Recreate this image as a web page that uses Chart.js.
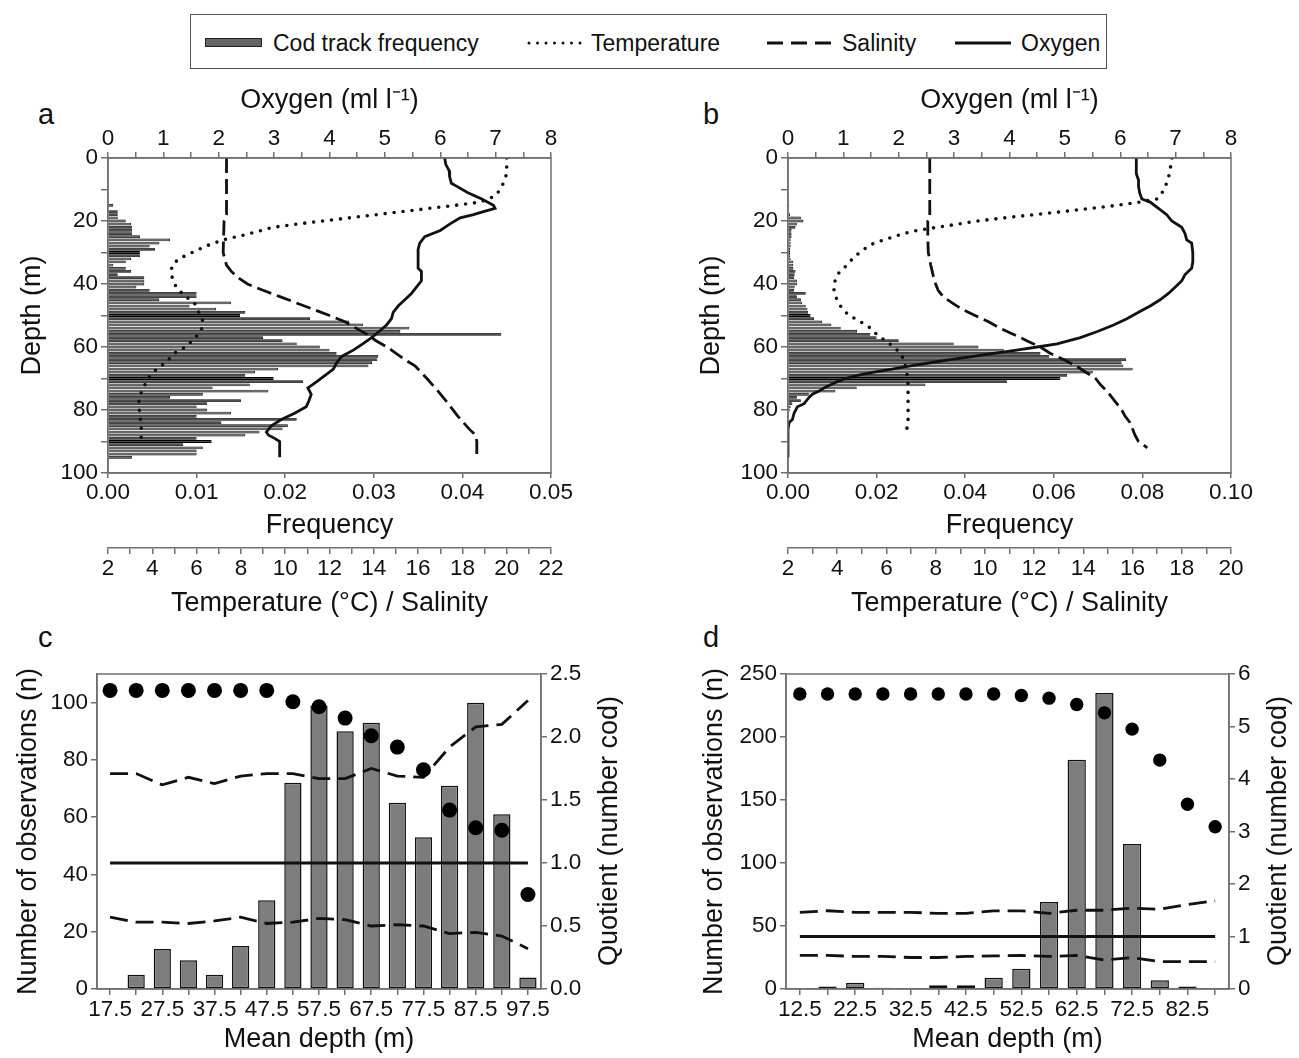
<!DOCTYPE html>
<html>
<head>
<meta charset="utf-8">
<title>Cod tracks and water column profiles</title>
<script src="https://cdn.jsdelivr.net/npm/chart.js@4.4.1/dist/chart.umd.min.js"></script>
<style>
  body { margin: 0; background: #fff; }
  #fig { position: relative; width: 1299px; height: 1058px; overflow: hidden;
         font-family: 'Liberation Sans', Arial, sans-serif; color: #111; }
  #fig canvas { position: absolute; }
  .box { position: absolute; left: 190px; top: 14px; width: 915px; height: 53px; border: 1.5px solid #555; }
  .lbl { position: absolute; font-size: 23px; line-height: 28px; top: 29px; white-space: nowrap; }
  .sw { position: absolute; top: 37px; }
  .letter { position: absolute; font-size: 29px; line-height: 32px; }
  .rtitle { position: absolute; width: 340px; text-align: center; font-size: 27px; line-height: 32px;
            transform: rotate(-90deg); white-space: nowrap; }
</style>
</head>
<body>
<div id="fig">
  <div class="box"></div>
  <svg class="sw" style="left:205px" width="58" height="12"><rect x="0.5" y="1.5" width="56" height="8" fill="#666" stroke="#222" stroke-width="1"/></svg>
  <span class="lbl" style="left:273px">Cod track frequency</span>
  <svg class="sw" style="left:527px" width="56" height="12"><line x1="2" y1="6" x2="54" y2="6" stroke="#111" stroke-width="3" stroke-linecap="round" stroke-dasharray="0 8.5"/></svg>
  <span class="lbl" style="left:591px">Temperature</span>
  <svg class="sw" style="left:767px" width="66" height="12"><line x1="0" y1="6" x2="64" y2="6" stroke="#111" stroke-width="3" stroke-dasharray="16 8"/></svg>
  <span class="lbl" style="left:842px">Salinity</span>
  <svg class="sw" style="left:955px" width="58" height="12"><line x1="0" y1="6" x2="56" y2="6" stroke="#111" stroke-width="3"/></svg>
  <span class="lbl" style="left:1021px">Oxygen</span>

  <span class="letter" style="left:38px;top:98px">a</span>
  <span class="letter" style="left:703px;top:98px">b</span>
  <span class="letter" style="left:38px;top:621px">c</span>
  <span class="letter" style="left:703px;top:621px">d</span>

  <canvas id="panelA" width="600" height="548" style="left:0;top:80px"></canvas>
  <canvas id="panelB" width="619" height="548" style="left:680px;top:80px"></canvas>
  <canvas id="panelC" width="610" height="438" style="left:0;top:620px"></canvas>
  <canvas id="panelD" width="619" height="438" style="left:680px;top:620px"></canvas>

  <div class="rtitle" style="left:438px;top:815px">Quotient (number cod)</div>
  <div class="rtitle" style="left:1107px;top:815px">Quotient (number cod)</div>
</div>

<script>
// ---- a: cod track frequency by 1 m depth bin ----
const binDepthA = [15,16,17,18,19,20,21,22,23,24,25,26,27,28,29,30,31,32,33,34,35,36,37,38,39,40,
  41,42,43,44,45,46,47,48,49,50,51,52,53,54,55,56,57,58,59,60,61,62,63,64,65,66,67,68,69,70,
  71,72,73,74,75,76,77,78,79,80,81,82,83,84,85,86,87,88,89,90,91,92,93,94,95];
const freqA = [0.0006,0,0.0011,0.0011,0.0011,0.002,0.0026,0.0027,0.0027,0.0027,0.0036,0.007,0.0058,
  0.0047,0.0053,0.0036,0.0036,0.0026,0.002,0.0006,0.002,0.0026,0.0011,0.0041,0.0041,0.0041,
  0.0032,0.0047,0.010,0.010,0.0058,0.0139,0.0092,0.0122,0.0155,0.0149,0.0228,0.0272,0.0288,0.034,
  0.033,0.0444,0.0175,0.0197,0.0213,0.0239,0.025,0.0258,0.0305,0.0304,0.0298,0.0294,0.0192,0.0166,
  0.0155,0.0187,0.022,0.016,0.0118,0.0181,0.0107,0.007,0.015,0.0112,0.010,0.0112,0.0139,0.010,
  0.0213,0.0128,0.0203,0.0197,0.0171,0.0155,0.010,0.0117,0.0085,0.0107,0.010,0.010,0.0027];

const tempDepthA = [0,5,8,10,12,14,15,16,17,18,19,20,21,22,24,25,26,28,30,32,34,36,38,40,42,44,46,
  49,52,55,58,60,62,65,67,70,73,76,79,82,85,88,91];
const tempA = [20.0,20.0,19.85,19.7,19.5,18.8,17.7,16.5,15.3,14.1,12.9,11.7,10.5,9.45,8.4,7.8,7.2,
  6.4,5.8,5.2,4.9,4.85,4.9,5.0,5.2,5.5,5.9,6.1,6.3,6.2,5.8,5.5,5.0,4.6,4.2,3.8,3.6,3.4,3.4,3.45,3.5,3.5,3.5];

const salDepthA = [0,10,18,20,25,30,32,34,36,38,40,42,44,46,48,50,52,54,56,58,60,62,64,66,70,74,78,
  82,86,88,90,95];
const salA = [7.35,7.35,7.35,7.24,7.22,7.2,7.27,7.35,7.57,7.87,8.3,9.0,9.76,10.5,11.26,12.0,12.7,13.2,
  13.7,14.1,14.6,15.0,15.4,15.86,16.4,16.9,17.36,17.8,18.3,18.6,18.65,18.65];

const oxyDepthA = [0,2,4,6,8,9,11,13,15,16,17,18,19,21,23,25,27,29,32,35,36,39,41,43,45,47,49,51,53,
  55,57,59,61,63,65,67,69,71,73,75,77,79,81,83,85,87,88,89,90,95];
const oxyA = [6.08,6.1,6.16,6.17,6.2,6.3,6.5,6.75,6.96,6.99,6.78,6.6,6.36,6.17,6.0,5.72,5.63,5.6,5.6,
  5.6,5.66,5.66,5.57,5.48,5.36,5.24,5.15,5.12,5.03,4.9,4.76,4.6,4.43,4.22,4.13,4.07,3.92,3.77,3.61,
  3.67,3.63,3.58,3.37,3.13,2.95,2.86,2.9,3.01,3.1,3.1];

// ---- b ----
const binDepthB = [15,16,17,18,19,20,21,22,23,24,25,26,27,28,29,30,31,32,33,34,35,36,37,38,39,40,
  41,42,43,44,45,46,47,48,49,50,51,52,53,54,55,56,57,58,59,60,61,62,63,64,65,66,67,68,69,70,
  71,72,73,74,75,76,77,78,79,80];
const freqB = [0.0003,0,0,0.0005,0.0029,0.0035,0.002,0.0017,0.0008,0.0008,0.0008,0.0006,0.0006,0.0006,
  0.0005,0.0005,0.0005,0.0006,0.0012,0.0012,0.0012,0.0017,0.0015,0.0014,0.002,0.002,0.0015,0.0014,
  0.004,0.002,0.0029,0.0032,0.004,0.0044,0.0045,0.0051,0.0059,0.0077,0.0098,0.0119,0.0156,0.0186,
  0.020,0.025,0.0374,0.043,0.0487,0.057,0.059,0.0763,0.0753,0.0757,0.0778,0.0688,0.063,0.0615,
  0.0494,0.031,0.0155,0.0107,0.0047,0.002,0.0029,0.001,0.0006,0.0004];

const tempDepthB = [0,5,10,13,14,15,16,17,18,19,20,21,22,23,24,25,26,27,29,31,33,35,37,40,42,44,46,
  48,50,52,54,56,58,60,62,64,66,70,75,80,85,88];
const tempB = [17.6,17.5,17.3,17.0,16.3,15.4,14.3,13.2,12.0,10.8,9.7,8.9,8.06,7.25,6.7,6.3,5.9,5.5,
  5.08,4.75,4.5,4.27,4.0,3.87,3.87,3.93,4.07,4.2,4.5,4.95,5.35,5.6,5.96,6.3,6.57,6.7,6.77,6.87,6.88,
  6.88,6.88,6.7];

const salDepthB = [0,10,19,20,25,30,34,36,38,40,42,44,46,48,50,52,54,56,58,60,62,64,66,68,70,72,74,
  76,78,80,82,84,86,88,90,92];
const salB = [7.76,7.76,7.76,7.68,7.68,7.7,7.8,7.86,7.92,8.0,8.1,8.3,8.67,9.07,9.6,10.15,10.6,11.17,
  11.7,12.25,12.65,13.2,13.7,14.1,14.5,14.7,14.96,15.16,15.36,15.56,15.7,15.9,16.0,16.1,16.24,16.6];

const oxyDepthB = [0,5,7,9,11,13,14,16,18,20,22,24,26,27,30,33,35,37,39,41,43,45,47,49,51,53,55,57,
  59,60,61,62,63,64,65,66,67,68,69,70,71,72,73,74,75,76,78,79,81,83,84,86,95];
const oxyB = [6.29,6.29,6.33,6.33,6.35,6.39,6.54,6.69,6.84,6.93,7.11,7.17,7.2,7.29,7.31,7.31,7.29,
  7.17,7.11,6.99,6.87,6.72,6.54,6.33,6.12,5.88,5.6,5.28,4.86,4.5,4.13,3.71,3.35,2.93,2.57,2.21,1.88,
  1.55,1.25,1.04,0.89,0.77,0.65,0.56,0.44,0.38,0.29,0.17,0.11,0.08,0.02,0,0];

// ---- c: observations and quotient per 5 m depth class ----
const depthClassC = ['17.5','22.5','27.5','32.5','37.5','42.5','47.5','52.5','57.5','62.5','67.5',
  '72.5','77.5','82.5','87.5','92.5','97.5'];
const obsC = [0,5,14,10,5,15,31,72,99,90,93,65,53,71,100,61,4];
const quotC = [2.37,2.37,2.37,2.37,2.37,2.37,2.37,2.28,2.24,2.15,2.01,1.92,1.74,1.42,1.28,1.26,0.75];
const upperC = [1.71,1.71,1.62,1.68,1.63,1.69,1.71,1.71,1.67,1.67,1.75,1.69,1.68,1.92,2.08,2.10,2.29];
const lowerC = [0.57,0.53,0.53,0.52,0.54,0.57,0.52,0.53,0.56,0.55,0.50,0.51,0.50,0.44,0.45,0.42,0.32];

// ---- d ----
const depthClassD = ['12.5','17.5','22.5','27.5','32.5','37.5','42.5','47.5','52.5','57.5','62.5',
  '67.5','72.5','77.5','82.5','87.5'];
const obsD = [0,2,5,1,0.5,3,3,9,16,69,182,235,115,7,2,0];
const quotD = [5.62,5.62,5.62,5.62,5.62,5.62,5.62,5.62,5.59,5.54,5.42,5.26,4.95,4.36,3.52,3.09];
const upperD = [1.46,1.49,1.46,1.46,1.46,1.44,1.44,1.49,1.49,1.44,1.50,1.50,1.54,1.52,1.61,1.68];
const lowerD = [0.64,0.64,0.62,0.62,0.60,0.60,0.62,0.63,0.64,0.62,0.64,0.55,0.60,0.52,0.52,0.52];

const unitQuotient = 1;

const AXIS = '#707070';
const INK = '#111';
const TICK_FONT = { size: 22.5 };
const TITLE_FONT = { size: 27 };

Chart.defaults.font.family = "'Liberation Sans', Arial, sans-serif";
Chart.defaults.color = INK;
Chart.defaults.animation = false;
Chart.defaults.plugins.legend.display = false;
Chart.defaults.plugins.tooltip.enabled = false;

// outline round the plotting area
const frame = {
  id: 'frame',
  afterDatasetsDraw(chart) {
    const { ctx, chartArea: a } = chart;
    ctx.save();
    ctx.strokeStyle = AXIS;
    ctx.lineWidth = 1.5;
    ctx.strokeRect(a.left, a.top, a.right - a.left, a.bottom - a.top);
    ctx.restore();
  }
};

const fixWidth = w => s => { s.width = w; };
const fixHeight = h => s => { s.height = h; };
const pts = (depths, vals) => depths.map((d, i) => ({ x: vals[i], y: d }));

function axisGrid(len) {
  return { drawOnChartArea: false, color: AXIS, lineWidth: 1.5, tickLength: len };
}

function profileLine(depths, vals, axisId, dash, cap) {
  return {
    type: 'line', indexAxis: 'y', xAxisID: axisId, yAxisID: 'depth',
    data: pts(depths, vals), borderColor: INK, borderWidth: dash && cap ? 3.6 : 2.8,
    borderDash: dash || [], borderCapStyle: cap || 'butt',
    pointRadius: 0, tension: 0, fill: false, order: 1
  };
}

function profileChart(id, p) {
  new Chart(document.getElementById(id), {
    type: 'bar',
    data: {
      datasets: [
        { type: 'bar', indexAxis: 'y', xAxisID: 'freq', yAxisID: 'depth',
          data: pts(p.binDepth, p.freq), backgroundColor: '#4f4f4f', borderColor: '#000',
          borderWidth: 0.8, barPercentage: 0.9, categoryPercentage: 1, order: 3 },
        profileLine(p.tempDepth, p.temp, 'temp', [0, 9], 'round'),
        profileLine(p.salDepth, p.sal, 'temp', [15, 6]),
        profileLine(p.oxyDepth, p.oxy, 'oxy')
      ]
    },
    options: {
      responsive: false,
      indexAxis: 'y',
      layout: { padding: { right: p.rightPad } },
      scales: {
        depth: {
          type: 'linear', axis: 'y', position: 'left', reverse: true, min: 0, max: 100, offset: false,
          afterFit: fixWidth(108),
          ticks: { stepSize: 10, font: TICK_FONT, padding: 3, callback: v => (v % 20 === 0 ? v : '') },
          grid: Object.assign(axisGrid(7), { offset: false }), border: { color: AXIS, width: 1.5 },
          title: { display: true, text: 'Depth (m)', font: TITLE_FONT, padding: { top: p.depthPad } }
        },
        oxy: {
          type: 'linear', axis: 'x', position: 'top', min: 0, max: 8,
          afterFit: fixHeight(78),
          ticks: { stepSize: 0.5, font: TICK_FONT, padding: 0, autoSkip: false, maxRotation: 0,
                   callback: v => (Number.isInteger(v) ? v : '') },
          grid: axisGrid(6), border: { color: AXIS, width: 1.5 },
          title: { display: true, text: 'Oxygen (ml l\u207B\u00B9)', font: TITLE_FONT, padding: { top: 4 } }
        },
        freq: {
          type: 'linear', axis: 'x', position: 'bottom', weight: 0, min: 0, max: p.freqMax,
          afterFit: fixHeight(75),
          ticks: { stepSize: p.freqStep, font: TICK_FONT, padding: 1, maxRotation: 0,
                   callback: v => v.toFixed(2) },
          grid: axisGrid(5), border: { color: AXIS, width: 1.5 },
          title: { display: true, text: 'Frequency', font: TITLE_FONT, padding: { bottom: 6 } }
        },
        temp: {
          type: 'linear', axis: 'x', position: 'bottom', weight: 1, min: 2, max: p.tempMax,
          afterFit: fixHeight(80),
          ticks: { stepSize: 1, font: TICK_FONT, padding: 1, autoSkip: false, maxRotation: 0,
                   callback: v => (v % 2 === 0 ? v : '') },
          grid: axisGrid(6), border: { color: AXIS, width: 1.5 },
          title: { display: true, text: 'Temperature (\u00B0C) / Salinity', font: TITLE_FONT,
                   padding: { bottom: 8 } }
        }
      }
    },
    plugins: [frame]
  });
}

function quotientChart(id, p) {
  new Chart(document.getElementById(id), {
    type: 'bar',
    data: {
      labels: p.cats,
      datasets: [
        { type: 'bar', yAxisID: 'n', data: p.obs, backgroundColor: '#7d7d7d', borderColor: '#111',
          borderWidth: 1.5, borderSkipped: false, barPercentage: 0.66, categoryPercentage: 1, order: 3 },
        { type: 'line', yAxisID: 'q', data: p.upper, borderColor: INK, borderWidth: 2.8,
          borderDash: [18, 8], pointRadius: 0, tension: 0, order: 2 },
        { type: 'line', yAxisID: 'q', data: p.lower, borderColor: INK, borderWidth: 2.8,
          borderDash: [18, 8], pointRadius: 0, tension: 0, order: 2 },
        { type: 'line', yAxisID: 'q', data: p.cats.map(() => unitQuotient), borderColor: INK,
          borderWidth: 2.8, pointRadius: 0, order: 2 },
        { type: 'line', yAxisID: 'q', data: p.quot, showLine: false, pointRadius: p.dot,
          pointBackgroundColor: '#000', pointBorderWidth: 0, clip: false, order: 1 }
      ]
    },
    options: {
      responsive: false,
      layout: { padding: { top: 54 } },
      scales: {
        x: {
          type: 'category', position: 'bottom', offset: true,
          afterFit: fixHeight(69),
          ticks: { font: TICK_FONT, padding: 1, autoSkip: false, maxRotation: 0,
                   callback: (v, i) => (i % 2 === 0 ? p.cats[i] : '') },
          grid: { drawOnChartArea: false, offset: false, color: AXIS, lineWidth: 1.5, tickLength: 6 },
          border: { color: AXIS, width: 1.5 },
          title: { display: true, text: 'Mean depth (m)', font: TITLE_FONT, padding: { bottom: 2 } }
        },
        n: {
          type: 'linear', position: 'left', min: 0, max: p.nMax,
          afterFit: fixWidth(p.leftW),
          ticks: { stepSize: p.nStep, font: TICK_FONT, padding: 3, includeBounds: false },
          grid: axisGrid(6), border: { color: AXIS, width: 1.5 },
          title: { display: true, text: 'Number of observations (n)', font: TITLE_FONT,
                   padding: { top: p.leftPad } }
        },
        q: {
          type: 'linear', position: 'right', min: 0, max: p.qMax,
          afterFit: fixWidth(p.rightW),
          ticks: { stepSize: p.qStep, font: TICK_FONT, padding: 3,
                   callback: v => (p.qStep < 1 ? v.toFixed(1) : v) },
          grid: axisGrid(6), border: { color: AXIS, width: 1.5 }
        }
      }
    },
    plugins: [frame]
  });
}

profileChart('panelA', {
  binDepth: binDepthA, freq: freqA, tempDepth: tempDepthA, temp: tempA,
  salDepth: salDepthA, sal: salA, oxyDepth: oxyDepthA, oxy: oxyA,
  freqMax: 0.05, freqStep: 0.01, tempMax: 22, depthPad: 16, rightPad: 49
});
profileChart('panelB', {
  binDepth: binDepthB, freq: freqB, tempDepth: tempDepthB, temp: tempB,
  salDepth: salDepthB, sal: salB, oxyDepth: oxyDepthB, oxy: oxyB,
  freqMax: 0.10, freqStep: 0.02, tempMax: 20, depthPad: 15, rightPad: 68
});
quotientChart('panelC', {
  cats: depthClassC, obs: obsC, quot: quotC, upper: upperC, lower: lowerC,
  nMax: 110, nStep: 20, qMax: 2.5, qStep: 0.5, leftW: 97, rightW: 69, leftPad: 12, dot: 7.5
});
quotientChart('panelD', {
  cats: depthClassD, obs: obsD, quot: quotD, upper: upperD, lower: lowerD,
  nMax: 250, nStep: 50, qMax: 6, qStep: 1, leftW: 106, rightW: 70, leftPad: 18, dot: 6.7
});
</script>
</body>
</html>
